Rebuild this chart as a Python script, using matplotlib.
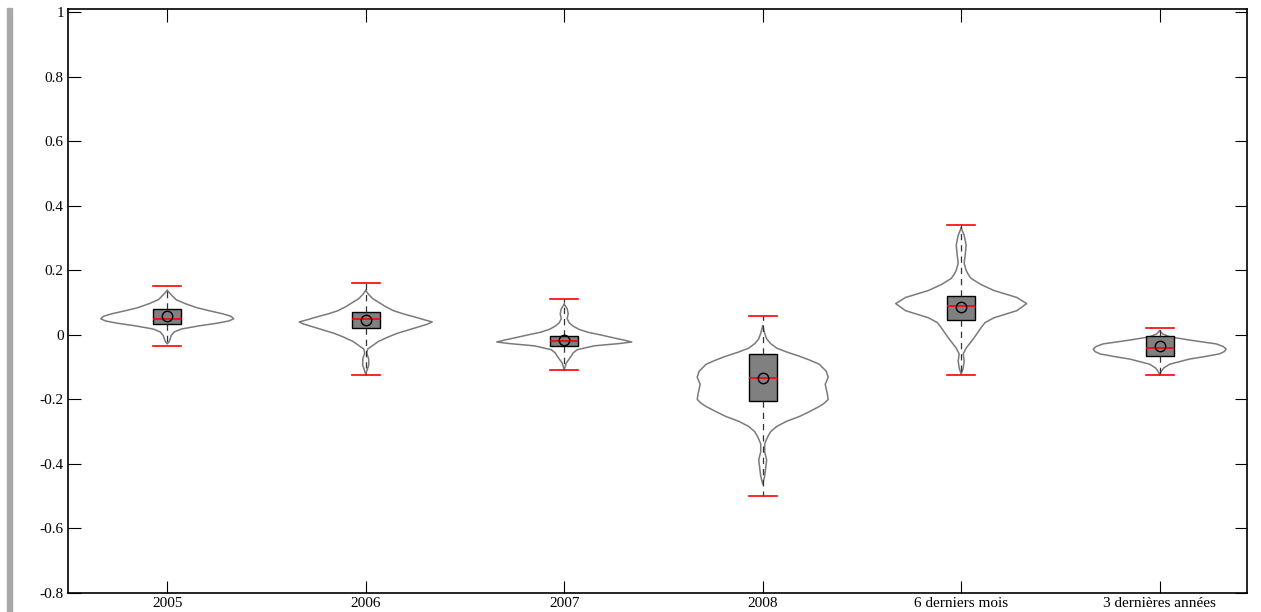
import matplotlib.pyplot as plt
import numpy as np

plt.rcParams['font.family'] = ['Liberation Serif', 'DejaVu Serif']
plt.rcParams['axes.unicode_minus'] = False

labels = ['2005', '2006', '2007', '2008', '6 derniers mois', '3 dernières années']

# box plot summary per group
q1 = [0.035, 0.02, -0.035, -0.205, 0.045, -0.065]
q3 = [0.08, 0.07, -0.005, -0.06, 0.12, -0.005]
med = [0.05, 0.05, -0.02, -0.135, 0.09, -0.04]
mean = [0.057, 0.047, -0.015, -0.135, 0.085, -0.035]
wlo = [-0.035, -0.125, -0.11, -0.5, -0.125, -0.125]
whi = [0.15, 0.16, 0.11, 0.06, 0.34, 0.02]

# violin outlines: level and relative half width
v05 = [0.1375, 0.128, 0.118, 0.109, 0.097, 0.084, 0.075, 0.066, 0.058, 0.05, 0.043, 0.036, 0.028, 0.018, 0.009,
       -0.002, -0.012, -0.02, -0.028]
w05 = [0, 3, 6, 9, 18, 30, 42, 55, 64, 67, 62, 50, 32, 14, 7, 4, 3, 2, 0]
v06 = [0.1375, 0.125, 0.1125, 0.0875, 0.075, 0.065, 0.055, 0.046, 0.04, 0.033, 0.019, 0.005, -0.006, -0.02, -0.033,
       -0.044, -0.056, -0.075, -0.094, -0.1125, -0.122]
w06 = [0, 3, 7, 20, 28, 38, 50, 60, 67, 62, 47, 32, 23, 13, 7, 2, 1, 3, 3, 1, 0]
v07 = [0.095, 0.081, 0.066, 0.05, 0.0375, 0.027, 0.017, 0.008, 0.001, -0.008, -0.016, -0.022, -0.027, -0.034, -0.046,
       -0.056, -0.066, -0.0875, -0.108]
w07 = [0, 3, 4, 3, 5, 9, 15, 24, 35, 48, 60, 68, 55, 30, 13, 9, 7, 2, 0]
v08 = [0.028, 0.005, -0.0125, -0.027, -0.041, -0.054, -0.066, -0.079, -0.091, -0.1125, -0.131, -0.153, -0.181, -0.2,
       -0.212, -0.222, -0.238, -0.253, -0.268, -0.284, -0.3, -0.316, -0.3375, -0.3625, -0.3875, -0.4125, -0.4375,
       -0.4625]
w08 = [0, 2, 4, 8, 14, 25, 37, 48, 57, 64, 66, 63, 65, 66, 62, 57, 47, 37, 24, 14, 8, 5, 2, 2, 4, 3, 2, 0]
v6m = [0.331, 0.309, 0.278, 0.247, 0.222, 0.2, 0.188, 0.175, 0.156, 0.1375, 0.116, 0.097, 0.075, 0.053, 0.038, 0.022,
       -0.009, -0.025, -0.041, -0.059, -0.081, -0.103, -0.122]
w6m = [0, 3, 5, 4, 3, 5, 7, 10, 20, 33, 56, 66, 56, 33, 24, 20, 13, 9, 5, 2, 3, 2, 0]
v3a = [0.0125, 0.003, -0.006, -0.016, -0.028, -0.036, -0.044, -0.052, -0.059, -0.067, -0.075, -0.091, -0.103, -0.116,
       -0.125]
w3a = [0, 3, 10, 30, 57, 64, 67, 65, 60, 46, 30, 10, 4, 1, 0]
violins = [(v05, w05), (v06, w06), (v07, w07), (v08, w08), (v6m, w6m), (v3a, w3a)]

fig = plt.figure(figsize=(12.61, 6.12), dpi=100)
ax = fig.add_axes([68 / 1261, 1 - 593 / 612, (1247 - 68) / 1261, (593 - 9) / 612])
pos = np.arange(1, len(labels) + 1)

for p, (v, w) in zip(pos, violins):
    v = np.array(v)
    w = np.array(w) / 67 * 0.335
    xs = np.concatenate([p + w, (p - w)[::-1]])
    ys = np.concatenate([v, v[::-1]])
    ax.plot(xs, ys, color='#7a7a7a', lw=1.1, zorder=2)

stats = [dict(med=med[i], q1=q1[i], q3=q3[i], whislo=wlo[i], whishi=whi[i], mean=mean[i], fliers=[])
         for i in range(len(labels))]
ax.bxp(stats, positions=pos, widths=0.14, capwidths=0.14, patch_artist=True, showmeans=True,
       boxprops=dict(facecolor='#808080', edgecolor='black', lw=1.0),
       medianprops=dict(color='red', lw=1.2),
       whiskerprops=dict(color='#333333', lw=0.9, linestyle=(0, (5, 4))),
       capprops=dict(color='red', lw=1.2),
       meanprops=dict(marker='o', markerfacecolor='none', markeredgecolor='black', markersize=7.5,
                      markeredgewidth=1.0),
       zorder=3)

ax.set_xlim(0.5, 6.44)
ax.set_ylim(-0.8, 1.01)
ax.set_xticks(pos)
ax.set_xticklabels(labels, fontsize=11)
yt = [1, 0.8, 0.6, 0.4, 0.2, 0, -0.2, -0.4, -0.6, -0.8]
ax.set_yticks(yt)
ax.set_yticklabels(['%g' % t for t in yt], fontsize=11)
ax.tick_params(direction='in', length=9, width=0.8, top=True, right=True, pad=3)
for s in ax.spines.values():
    s.set_linewidth(1.2)

# grey strip on the left edge
fig.patches.append(plt.Rectangle((7 / 1261, 0), 5 / 1261, 1 - 8 / 612, transform=fig.transFigure,
                                 color='#a8a8a8', zorder=0))

fig.savefig('out.png', dpi=100)
